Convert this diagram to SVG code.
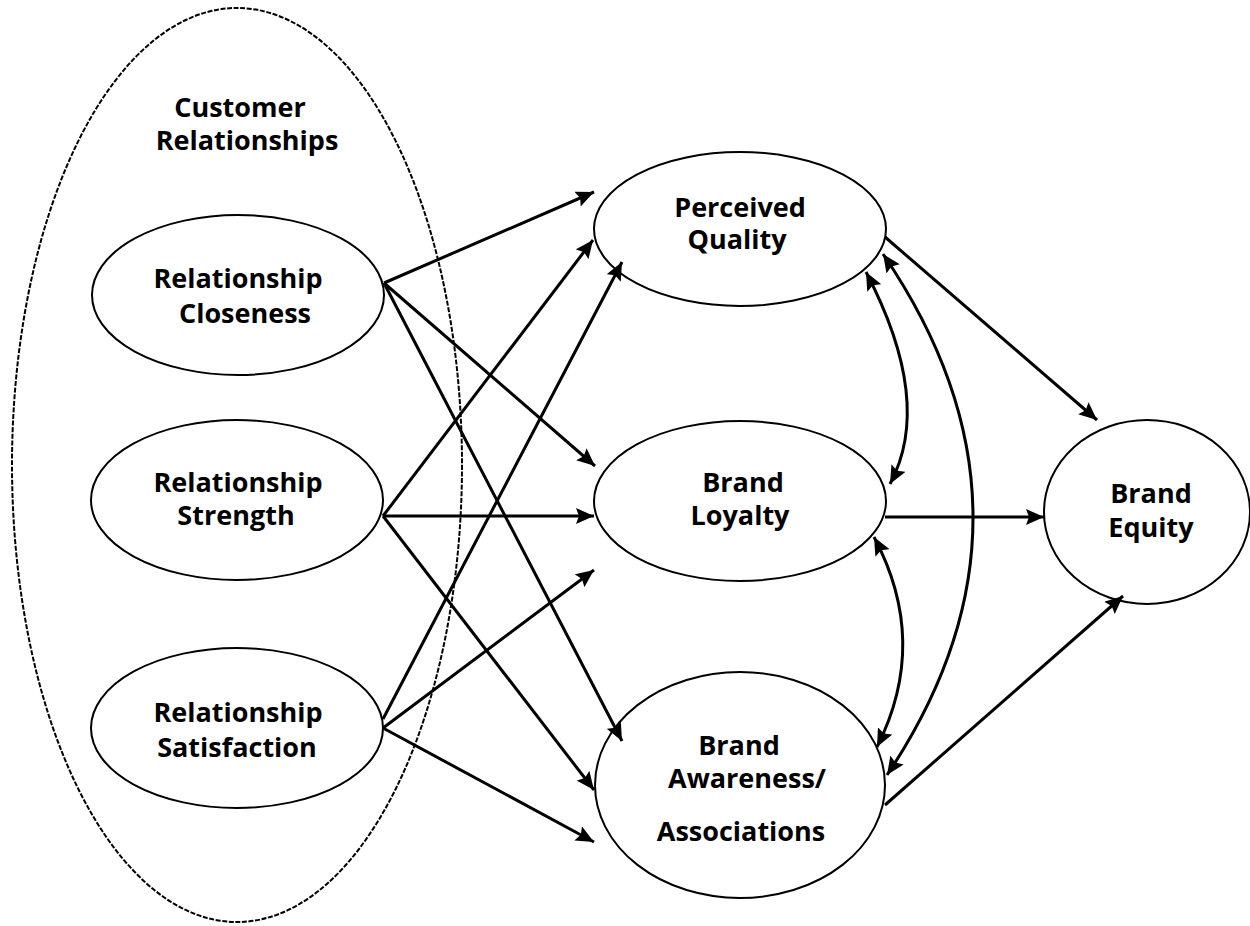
<svg xmlns="http://www.w3.org/2000/svg" width="1250" height="926" viewBox="0 0 1250 926">
<style>
.node{fill:#fff;stroke:#000;stroke-width:2}
.grp{fill:none;stroke:#000;stroke-width:2;stroke-dasharray:5 1.6}
.lbl{font-family:"Open Sans","Liberation Sans",sans-serif;font-weight:700;font-size:27px;fill:#000;text-anchor:middle}
.c{fill:none;stroke:#000;stroke-width:3}
.a{marker-end:url(#ah)}
.d{marker-end:url(#ah);marker-start:url(#ah)}
</style>
<defs>
<marker id="ah" markerUnits="userSpaceOnUse" markerWidth="20" markerHeight="16" refX="18" refY="8" orient="auto-start-reverse">
<path d="M0,0 L18,8 L0,16 L3,8 z" fill="#000"/>
</marker>
</defs>
<rect width="1250" height="926" fill="#fff"/>
<g id="customer-relationships">
<ellipse class="grp" cx="237" cy="465" rx="225" ry="457"/>
<text class="lbl" x="240" y="117">Customer</text>
<text class="lbl" x="247" y="150">Relationships</text>
</g>
<g id="relationship-closeness">
<ellipse class="node" cx="238" cy="295" rx="146" ry="80"/>
<text class="lbl" x="238" y="288">Relationship</text>
<text class="lbl" x="245" y="323">Closeness</text>
</g>
<g id="relationship-strength">
<ellipse class="node" cx="237" cy="500" rx="146" ry="80"/>
<text class="lbl" x="238" y="492">Relationship</text>
<text class="lbl" x="236" y="525">Strength</text>
</g>
<g id="relationship-satisfaction">
<ellipse class="node" cx="237" cy="728" rx="146" ry="80"/>
<text class="lbl" x="238" y="722">Relationship</text>
<text class="lbl" x="237" y="757">Satisfaction</text>
</g>
<g id="perceived-quality">
<ellipse class="node" cx="740" cy="229" rx="146" ry="77"/>
<text class="lbl" x="740" y="217">Perceived</text>
<text class="lbl" x="737" y="249">Quality</text>
</g>
<g id="brand-loyalty">
<ellipse class="node" cx="740" cy="501" rx="146" ry="80"/>
<text class="lbl" x="743" y="492">Brand</text>
<text class="lbl" x="740" y="525">Loyalty</text>
</g>
<g id="brand-awareness">
<ellipse class="node" cx="740" cy="785" rx="145" ry="113"/>
<text class="lbl" x="739" y="755">Brand</text>
<text class="lbl" x="747" y="788">Awareness/</text>
<text class="lbl" x="741" y="841">Associations</text>
</g>
<g id="brand-equity">
<ellipse class="node" cx="1147" cy="512" rx="103" ry="92"/>
<text class="lbl" x="1151" y="503">Brand</text>
<text class="lbl" x="1151" y="537">Equity</text>
</g>
<g id="connectors">
<line class="c a" x1="384" y1="283" x2="594" y2="192"/>
<line class="c a" x1="384" y1="283" x2="595" y2="466"/>
<line class="c a" x1="384" y1="283" x2="622" y2="741"/>
<line class="c a" x1="383" y1="516" x2="593" y2="240"/>
<line class="c a" x1="383" y1="516" x2="594" y2="516"/>
<line class="c a" x1="383" y1="516" x2="594" y2="790"/>
<line class="c a" x1="383" y1="719" x2="622" y2="262"/>
<line class="c a" x1="383" y1="728" x2="594" y2="570"/>
<line class="c a" x1="383" y1="728" x2="594" y2="842"/>
<line class="c a" x1="885" y1="237" x2="1097" y2="420"/>
<line class="c a" x1="885" y1="517" x2="1044" y2="517"/>
<line class="c a" x1="885" y1="805" x2="1123" y2="596"/>
<path class="c d" d="M866,272 Q934,402 890,484"/>
<path class="c d" d="M874,537 Q930,642 877,747"/>
<path class="c d" d="M883,254 Q1061,515 887,775"/>
</g>
</svg>
